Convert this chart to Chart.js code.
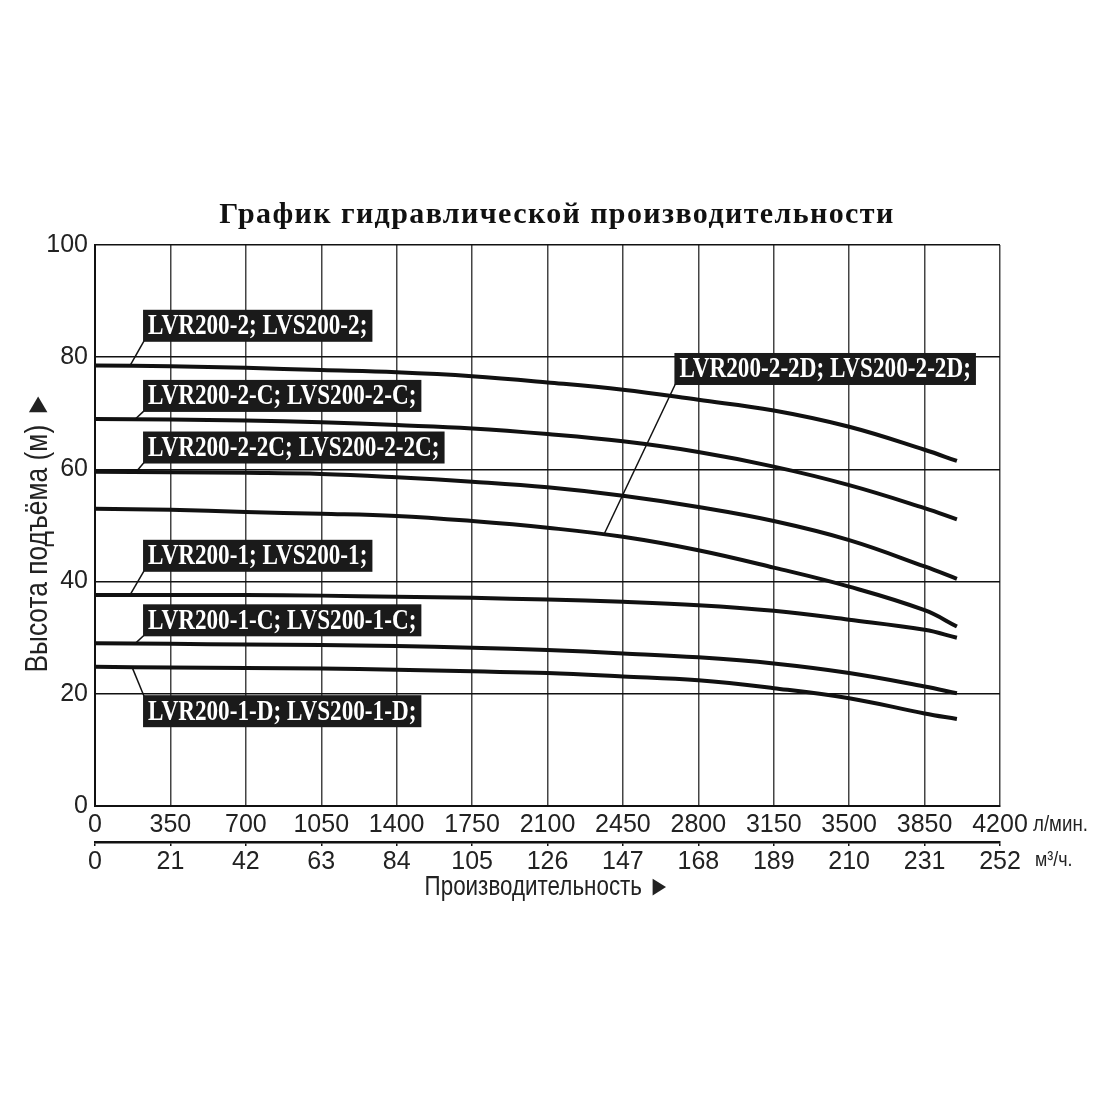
<!DOCTYPE html>
<html>
<head>
<meta charset="utf-8">
<script src="https://cdn.jsdelivr.net/npm/chart.js@4"></script>
<style>
  html, body { margin: 0; padding: 0; background: #fff; }
  #wrap { width: 1100px; height: 1100px; }
</style>
</head>
<body>
<div id="wrap"><canvas id="c" width="1100" height="1100"></canvas></div>
<script>
const flow = [0, 350, 700, 1050, 1400, 1750, 2100, 2450, 2800, 3150, 3500, 3850, 4000];

// head (m) for each pump
const head2    = [78.5, 78.4, 78.1, 77.7, 77.3, 76.6, 75.5, 74.2, 72.4, 70.5, 67.6, 63.5, 61.5];
const head2C   = [69.0, 68.9, 68.7, 68.4, 67.9, 67.3, 66.3, 65.0, 63.1, 60.5, 57.2, 53.1, 51.1];
const head22C  = [59.6, 59.5, 59.4, 59.2, 58.6, 57.8, 56.8, 55.3, 53.3, 50.8, 47.4, 42.7, 40.5];
const head22D  = [53.0, 52.8, 52.4, 52.1, 51.7, 50.8, 49.6, 48.0, 45.6, 42.5, 39.1, 34.9, 32.0];
const head1    = [37.6, 37.6, 37.6, 37.5, 37.3, 37.1, 36.8, 36.4, 35.8, 34.8, 33.2, 31.4, 30.0];
const head1C   = [29.0, 28.9, 28.8, 28.7, 28.5, 28.2, 27.8, 27.2, 26.5, 25.4, 23.7, 21.3, 20.1];
const head1D   = [24.8, 24.7, 24.6, 24.5, 24.3, 24.0, 23.7, 23.1, 22.4, 21.0, 19.2, 16.5, 15.5];

const seriesNames = [
  'LVR200-2; LVS200-2;',
  'LVR200-2-C; LVS200-2-C;',
  'LVR200-2-2C; LVS200-2-2C;',
  'LVR200-2-2D; LVS200-2-2D;',
  'LVR200-1; LVS200-1;',
  'LVR200-1-C; LVS200-1-C;',
  'LVR200-1-D; LVS200-1-D;'
];
const seriesHeads = [head2, head2C, head22C, head22D, head1, head1C, head1D];

// tick labels
const flowTicks = [0, 350, 700, 1050, 1400, 1750, 2100, 2450, 2800, 3150, 3500, 3850, 4200];
const m3hTicks  = [0, 21, 42, 63, 84, 105, 126, 147, 168, 189, 210, 231, 252];
const headTicks = [0, 20, 40, 60, 80, 100];

const sans = "'Liberation Sans', Arial, sans-serif";
const serif = "'Liberation Serif', 'Times New Roman', serif";

// callout boxes: box left edge (l/min), box centre (m), where the leader leaves the curve
const callouts = [
  { series: 0, boxX: 223, boxY: 85.6, fromX: 162, corner: 'bottom' },
  { series: 1, boxX: 223, boxY: 73.1, fromX: 186, corner: 'bottom' },
  { series: 2, boxX: 223, boxY: 63.9, fromX: 190, corner: 'bottom' },
  { series: 3, boxX: 2689, boxY: 77.9, fromX: 2362, corner: 'bottom' },
  { series: 4, boxX: 223, boxY: 44.6, fromX: 162, corner: 'bottom' },
  { series: 5, boxX: 223, boxY: 33.1, fromX: 186, corner: 'bottom' },
  { series: 6, boxX: 223, boxY: 16.9, fromX: 172, corner: 'top' }
];

function headAt(vals, q) {
  for (let i = 0; i < flow.length - 1; i++) {
    if (q >= flow[i] && q <= flow[i + 1]) {
      const t = (q - flow[i]) / (flow[i + 1] - flow[i]);
      return vals[i] + t * (vals[i + 1] - vals[i]);
    }
  }
  return vals[vals.length - 1];
}

const datasets = seriesHeads.map((h, i) => ({
  label: seriesNames[i],
  data: flow.map((q, j) => ({ x: q, y: h[j] })),
  borderColor: '#111',
  borderWidth: 4,
  pointRadius: 0,
  fill: false,
  tension: 0.4
}));

// condensed text helper (the original uses a narrow face)
function narrowText(ctx, text, x, y, sx) {
  ctx.save();
  ctx.translate(x, y);
  ctx.scale(sx, 1);
  ctx.fillText(text, 0, 0);
  ctx.restore();
}

const BOX_H = 32;
const calloutPlugin = {
  id: 'callouts',
  afterDatasetsDraw(chart) {
    const ctx = chart.ctx;
    const xs = chart.scales.x, ys = chart.scales.y;
    ctx.save();
    callouts.forEach(c => {
      const text = seriesNames[c.series];
      ctx.font = 'bold 29px ' + serif;
      const tw = ctx.measureText(text).width * 0.8;
      const bx = xs.getPixelForValue(c.boxX);
      const by = ys.getPixelForValue(c.boxY) - BOX_H / 2;
      const bw = tw + 10;

      // leader line
      const px = xs.getPixelForValue(c.fromX);
      const py = ys.getPixelForValue(headAt(seriesHeads[c.series], c.fromX));
      ctx.strokeStyle = '#111';
      ctx.lineWidth = 1.5;
      ctx.beginPath();
      ctx.moveTo(px, py);
      ctx.lineTo(bx + 1, c.corner === 'bottom' ? by + BOX_H - 1 : by + 1);
      ctx.stroke();

      ctx.fillStyle = '#1a1a1a';
      ctx.fillRect(bx, by, bw, BOX_H);
      ctx.fillStyle = '#fff';
      ctx.textBaseline = 'middle';
      ctx.textAlign = 'left';
      narrowText(ctx, text, bx + 5, by + BOX_H / 2 + 1, 0.8);
    });
    ctx.restore();
  }
};

const textPlugin = {
  id: 'texts',
  afterDraw(chart) {
    const ctx = chart.ctx;
    const a = chart.chartArea;
    ctx.save();
    // title
    ctx.fillStyle = '#111';
    ctx.textAlign = 'center';
    ctx.textBaseline = 'middle';
    ctx.font = 'bold 30px ' + serif;
    ctx.letterSpacing = '1.4px';
    ctx.fillText('График гидравлической производительности', 557, 215);
    ctx.letterSpacing = '0px';

    // x axis title
    ctx.fillStyle = '#222';
    ctx.font = '28px ' + sans;
    narrowText(ctx, 'Производительность ►', (a.left + a.right) / 2, 887, 0.8);

    // units
    ctx.textAlign = 'left';
    ctx.font = '22px ' + sans;
    narrowText(ctx, 'л/мин.', 1033, 825, 0.85);
    ctx.font = '21px ' + sans;
    narrowText(ctx, 'м³/ч.', 1035, 860, 0.85);

    // y axis title
    ctx.translate(38, 532);
    ctx.rotate(-Math.PI / 2);
    ctx.textAlign = 'center';
    ctx.font = '31px ' + sans;
    narrowText(ctx, 'Высота подъёма (м) ►', 0, 0, 0.85);
    ctx.restore();
  }
};

const tickFont = { family: sans, size: 25 };
const plain = v => String(v);

new Chart(document.getElementById('c'), {
  type: 'line',
  data: { datasets },
  options: {
    responsive: false,
    animation: false,
    devicePixelRatio: 1,
    layout: { padding: { top: 245, right: 100, bottom: 218, left: 0 } },
    plugins: { legend: { display: false }, tooltip: { enabled: false }, title: { display: false } },
    scales: {
      x: {
        type: 'linear', position: 'bottom', weight: 0,
        min: 0, max: 4200,
        afterBuildTicks: s => { s.ticks = flowTicks.map(v => ({ value: v })); },
        afterFit: s => { s.height = 36; },
        grid: { color: '#444', lineWidth: 1.5, drawTicks: false },
        border: { display: true, color: '#111', width: 2 },
        ticks: { color: '#222', padding: 4, maxRotation: 0, autoSkip: false,
                 font: tickFont, callback: plain }
      },
      x2: {
        type: 'linear', position: 'bottom', weight: 1,
        min: 0, max: 252,
        afterBuildTicks: s => { s.ticks = m3hTicks.map(v => ({ value: v })); },
        afterFit: s => { s.height = 40; },
        grid: { drawOnChartArea: false, drawTicks: true, tickLength: 4, color: '#111', lineWidth: 1.5 },
        border: { display: true, color: '#111', width: 2.5 },
        ticks: { color: '#222', padding: 1, maxRotation: 0, autoSkip: false,
                 font: tickFont, callback: plain }
      },
      y: {
        min: 0, max: 100,
        afterBuildTicks: s => { s.ticks = headTicks.map(v => ({ value: v })); },
        afterFit: s => { s.width = 95; },
        grid: { color: '#111', lineWidth: 1.5, drawTicks: false },
        border: { display: true, color: '#111', width: 2 },
        ticks: { color: '#222', padding: 7, font: tickFont, callback: plain }
      }
    }
  },
  plugins: [calloutPlugin, textPlugin]
});
</script>
</body>
</html>
